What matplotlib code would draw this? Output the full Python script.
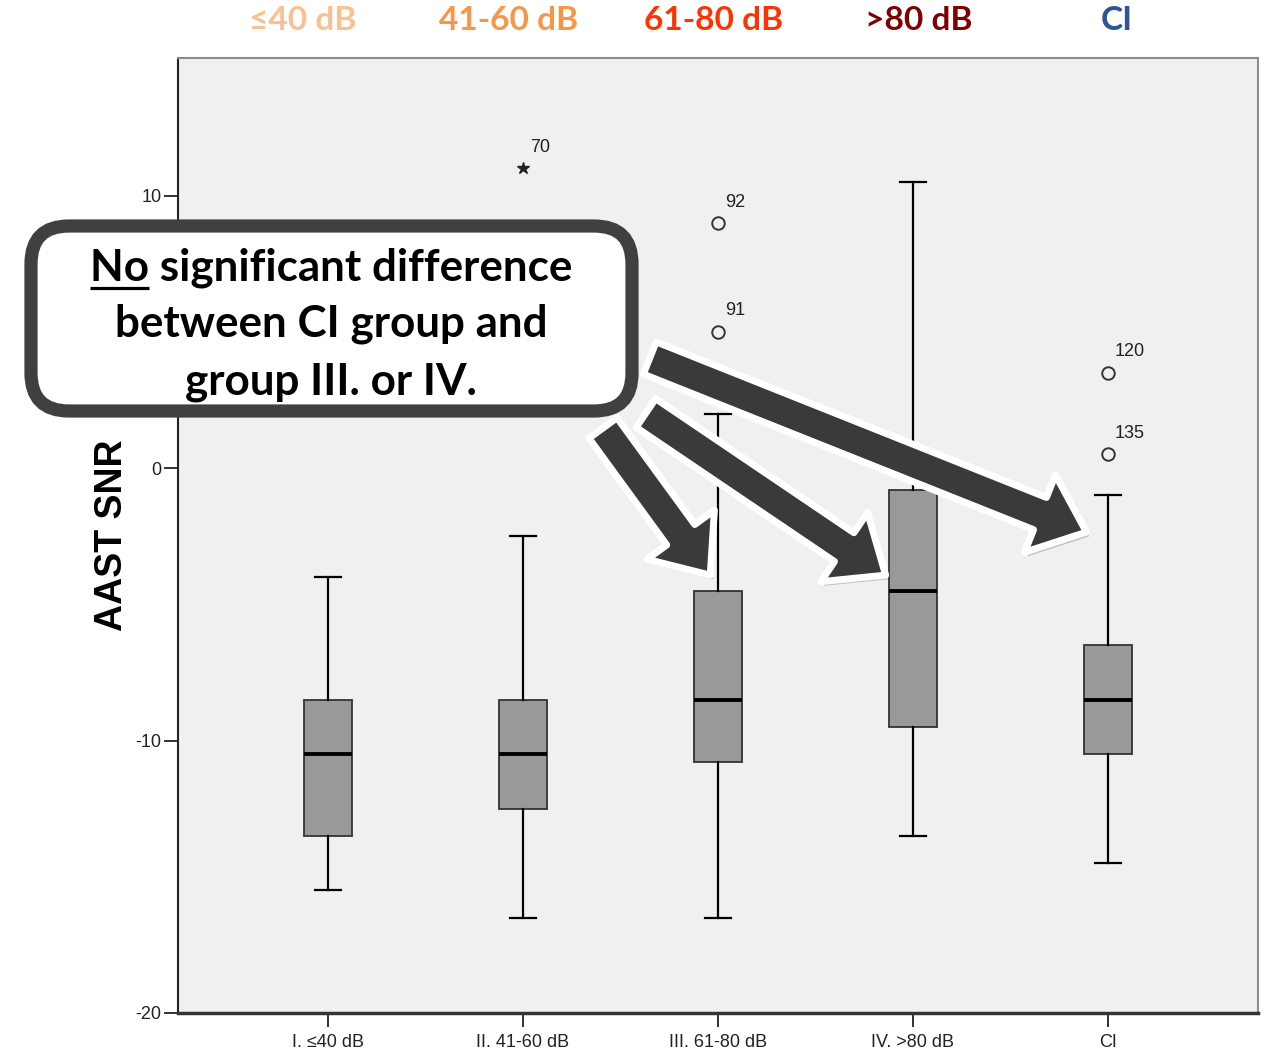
import numpy as np
import matplotlib.pyplot as plt
import matplotlib.patheffects as pe
from matplotlib.patches import FancyBboxPatch
from matplotlib.transforms import Affine2D

plt.rcParams['axes.unicode_minus'] = False

W, H = 1268, 1052

# group labels on the x axis and the coloured headers above the plot
groups = ['I. ≤40 dB', 'II. 41-60 dB', 'III. 61-80 dB', 'IV. >80 dB', 'CI']
heads = ['≤40 dB', '41-60 dB', '61-80 dB', '>80 dB', 'CI']
head_colors = ['#FAC090', '#F79646', '#FF3300', '#800000', '#2F5597']

# box plot summary (AAST SNR, dB)
whislo = [-15.5, -16.5, -16.5, -13.5, -14.5]
q1 = [-13.5, -12.5, -10.8, -9.5, -10.5]
med = [-10.5, -10.5, -8.5, -4.5, -8.5]
q3 = [-8.5, -8.5, -4.5, -0.8, -6.5]
whishi = [-4.0, -2.5, 2.0, 10.5, -1.0]

# outliers: group number, value, case id
out_grp = [3, 3, 5, 5]
out_val = [5.0, 9.0, 3.5, 0.5]
out_id = ['91', '92', '120', '135']
# extreme values (star)
ext_grp = [2]
ext_val = [11.0]
ext_id = ['70']

# arrows from the callout: tail (x, y) -> tip (x, y) in data units
arr_tail = [(2.41, 1.47), (2.63, 2.02), (2.65, 4.04)]
arr_tip = [(2.96, -3.93), (3.86, -3.93), (4.89, -2.35)]

callout = ['No significant difference', 'between CI group and', 'group III. or IV.']

fig = plt.figure(figsize=(W / 100, H / 100), dpi=100)
ax = fig.add_axes([178 / W, 1 - 1013 / H, (1258 - 178) / W, (1013 - 58) / H])
# image pixel coords (y down) -> figure
px = Affine2D().scale(1.0 / W, -1.0 / H).translate(0, 1) + fig.transFigure

pos = np.arange(1, len(groups) + 1)
stats = []
for i in range(len(groups)):
    stats.append(dict(med=med[i], q1=q1[i], q3=q3[i], whislo=whislo[i],
                      whishi=whishi[i], fliers=[]))
ax.bxp(stats, positions=pos, widths=0.25, patch_artist=True, showfliers=False,
       capwidths=0.13,
       boxprops=dict(facecolor='#999999', edgecolor='#333333', linewidth=1.3),
       medianprops=dict(color='black', linewidth=2.8),
       whiskerprops=dict(color='black', linewidth=1.6),
       capprops=dict(color='black', linewidth=1.6))

ax.plot(out_grp, out_val, 'o', mfc='none', mec='#333333', ms=9, mew=1.4)
ax.plot(ext_grp, ext_val, '*', color='#222222', ms=9)
for g, v, t in zip(out_grp + ext_grp, out_val + ext_val, out_id + ext_id):
    ax.annotate(t, (g, v), xytext=(5, 15), textcoords='offset points',
                ha='left', va='center', fontsize=13, color='#222222',
                family='Liberation Sans')

ax.set_xlim(0.23, 5.77)
ax.set_ylim(-20, 15.05)
ax.set_facecolor('#F0F0F0')
ax.set_xticks(pos)
ax.set_xticklabels(groups)
ax.set_yticks([-20, -10, 0, 10])
for lab in ax.get_xticklabels() + ax.get_yticklabels():
    lab.set_family('Liberation Sans')
ax.tick_params(length=10, width=1.4, color='#333333', labelsize=13,
               labelcolor='#222222', pad=2)
ax.tick_params(axis='x', pad=5)
ax.spines['left'].set_color('#222222')
ax.spines['left'].set_linewidth(1.5)
ax.spines['bottom'].set_color('#333333')
ax.spines['bottom'].set_linewidth(2.5)
for s in ['top', 'right']:
    ax.spines[s].set_color('#8C8C8C')
    ax.spines[s].set_linewidth(1.5)

fig.text(112, 535, 'AAST SNR', transform=px, rotation=90, ha='center',
         va='center', fontsize=27, fontweight='bold', family='Liberation Sans')

# callout box
shadow = [pe.SimplePatchShadow(offset=(2, -3), alpha=0.22), pe.Normal()]
box = FancyBboxPatch((31, 226), 601, 185, boxstyle='round,pad=0,rounding_size=38',
                     transform=px, fc='white', ec='#404040', lw=9.5,
                     clip_on=False, zorder=5, path_effects=shadow)
ax.add_patch(box)

for (x0, y0), (x1, y1) in zip(arr_tail, arr_tip):
    ax.annotate('', xy=(x1, y1), xytext=(x0, y0), zorder=6,
                arrowprops=dict(arrowstyle='simple,head_length=36,head_width=60,tail_width=25',
                                mutation_scale=1, fc='#3A3A3A', ec='white', lw=5,
                                shrinkA=0, shrinkB=0, path_effects=shadow))

# fit the callout font to the line width in the picture
fig.canvas.draw()
rend = fig.canvas.get_renderer()
fs = 27
probe = ax.text(0, 0, callout[0], fontsize=fs, fontweight='bold', family='Lato')
w = probe.get_window_extent(rend).width
probe.remove()
fs = fs * 482 / w

texts = []
for k, line in enumerate(callout):
    t = ax.text(331, 280 + 57 * k, line, transform=px, ha='center', va='baseline',
                fontsize=fs, fontweight='bold', family='Lato', clip_on=False,
                zorder=7)
    texts.append(t)

fig.canvas.draw()
bb = texts[0].get_window_extent(rend)
probe = ax.text(0, 0, 'No', fontsize=fs, fontweight='bold', family='Lato')
wno = probe.get_window_extent(rend).width
probe.remove()
x_left = bb.x0
ax.plot([x_left, x_left + wno], [H - 288, H - 288], transform=None,
        color='black', lw=2.3, clip_on=False, zorder=7, solid_capstyle='butt')

head_x = [303, 509, 714, 919, 1117]
for t, c, x in zip(heads, head_colors, head_x):
    fig.text(x, 21, t, transform=px, ha='center', va='center', color=c,
             fontsize=fs * 0.76, fontweight='bold', family='Lato')

fig.savefig('out.png', dpi=100)
